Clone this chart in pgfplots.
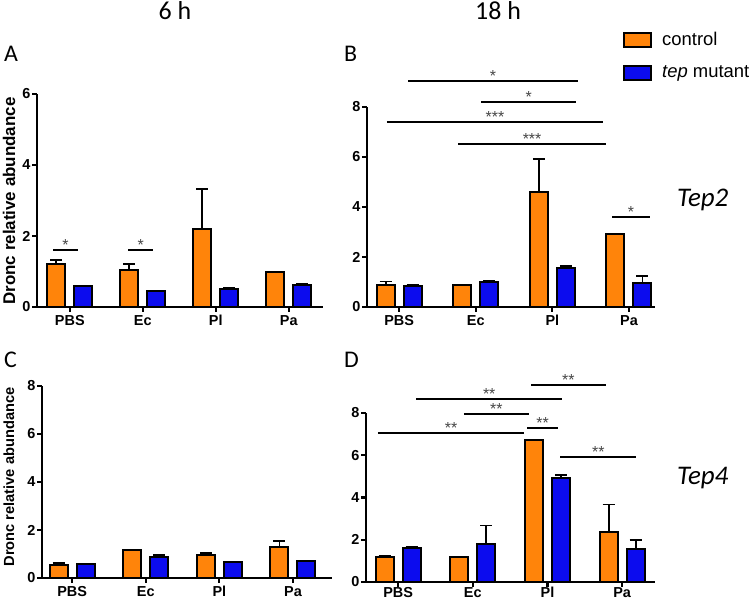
\documentclass[border=0pt]{standalone}
\usepackage{fontspec}
\setmainfont{Liberation Sans}
\newfontfamily\carlito{Carlito}
\usepackage{pgfplots}
\pgfplotsset{compat=1.18}

\definecolor{ctrl}{RGB}{255,132,10}
\definecolor{tepc}{RGB}{12,12,238}
\definecolor{stargray}{RGB}{70,70,70}

\newcommand{\sig}[4]{%
  \draw[line width=2bp] (axis cs:#1,#3) -- node[pos=0.5, anchor=base, inner sep=0pt, yshift=-0.5bp,
    text=stargray, font=\fontsize{16}{16}\selectfont] {#4} (axis cs:#2,#3);}

\pgfplotsset{
  panel/.style={
    scale only axis,
    anchor=south west,
    ybar=9bp, bar width=18bp,
    axis lines*=left,
    axis line style={line width=2.8bp, black},
    ymin=0,
    xtick={0,1,2,3}, xticklabels={PBS,Ec,Pl,Pa},
    tick align=outside, major tick length=5bp,
    tick style={line width=2.2bp, black},
    tick label style={font=\bfseries\fontsize{14.5}{14.5}\selectfont},
    yticklabel style={inner sep=1.5bp},
    /pgf/number format/assume math mode=true,
    clip=false,
    error bars/y dir=plus, error bars/y explicit,
    error bars/error bar style={line width=1.8bp, black},
    error bars/error mark options={rotate=90, mark size=6bp, line width=1.8bp, black},
  },
  boxlegend/.style={legend image code/.code={\draw[##1] (0bp,-7bp) rectangle (27bp,7bp);}},
  ctrlbar/.style={fill=ctrl, draw=black, line width=2bp, boxlegend},
  tepbar/.style={fill=tepc, draw=black, line width=2bp, boxlegend},
}

\begin{document}
\begin{tikzpicture}[x=1bp, y=1bp]
\path[use as bounding box] (0,0) rectangle (750,601);

% A: 6 h, Tep2
\begin{axis}[panel, at={(37bp,294bp)}, width=286bp, height=213bp,
    xmin=-0.45, xmax=3.47, ymax=6, ytick={0,2,4,6}]
\addplot[ctrlbar] coordinates {(0,1.20) +- (0,0.13) (1,1.04) +- (0,0.18) (2,2.20) +- (0,1.12) (3,0.98) +- (0,0)};
\addplot[tepbar] coordinates {(0,0.58) +- (0,0) (1,0.44) +- (0,0) (2,0.50) +- (0,0.05) (3,0.61) +- (0,0.05)};
\sig{-0.23}{0.11}{1.61}{*}
\sig{0.80}{1.14}{1.61}{*}
\end{axis}

% B: 18 h, Tep2
\begin{axis}[panel, at={(367bp,294bp)}, width=288bp, height=200bp,
    xmin=-0.42, xmax=3.34, ymax=8, ytick={0,2,4,6,8},
    legend style={draw=none, fill=none, at={(axis description cs:0.889,1.385)}, anchor=north west,
      font=\fontsize{18.5}{20}\selectfont, row sep=15bp, inner sep=0pt,
      /tikz/every even column/.append style={column sep=4bp},
      /tikz/every odd column/.append style={column sep=8bp}},
    legend cell align=left]
\addplot[ctrlbar] coordinates {(0,0.86) +- (0,0.16) (1,0.86) +- (0,0.02) (2,4.60) +- (0,1.32) (3,2.92) +- (0,0)};
\addplot[tepbar] coordinates {(0,0.82) +- (0,0.07) (1,1.00) +- (0,0.04) (2,1.56) +- (0,0.07) (3,0.96) +- (0,0.28)};
\addlegendentry{control}
\addlegendentry{\textit{tep} mutant}
\sig{0.12}{2.33}{9.04}{*}
\sig{1.07}{2.31}{8.20}{*}
\sig{-0.16}{2.66}{7.40}{***}
\sig{0.77}{2.70}{6.52}{***}
\sig{2.78}{3.27}{3.60}{*}
\end{axis}

% C: 6 h, Tep4
\begin{axis}[panel, at={(42bp,23bp)}, width=290bp, height=192bp,
    xmin=-0.41, xmax=3.53, ymax=8, ytick={0,2,4,6,8}]
\addplot[ctrlbar] coordinates {(0,0.54) +- (0,0.07) (1,1.15) +- (0,0) (2,0.94) +- (0,0.10) (3,1.30) +- (0,0.24)};
\addplot[tepbar] coordinates {(0,0.60) +- (0,0) (1,0.88) +- (0,0.07) (2,0.67) +- (0,0) (3,0.70) +- (0,0)};
\end{axis}

% D: 18 h, Tep4
\begin{axis}[panel, at={(366bp,19bp)}, width=289bp, height=169bp,
    xmin=-0.43, xmax=3.44, ymax=8, ytick={0,2,4,6,8},
    xticklabel style={yshift=3bp}]
\addplot[ctrlbar] coordinates {(0,1.19) +- (0,0.03) (1,1.19) +- (0,0) (2,6.71) +- (0,0) (3,2.38) +- (0,1.29)};
\addplot[tepbar] coordinates {(0,1.62) +- (0,0.05) (1,1.81) +- (0,0.86) (2,4.90) +- (0,0.15) (3,1.57) +- (0,0.43)};
\sig{1.78}{2.78}{9.33}{**}
\sig{0.24}{2.20}{8.67}{**}
\sig{0.88}{1.75}{7.95}{**}
\sig{-0.27}{1.69}{7.05}{**}
\sig{1.73}{2.14}{7.29}{**}
\sig{2.17}{3.19}{5.90}{**}
\end{axis}

% panel labels and titles
\node[anchor=base, inner sep=0pt, font=\carlito\fontsize{26}{26}\selectfont] at (175,581) {6 h};
\node[anchor=base, inner sep=0pt, font=\carlito\fontsize{26}{26}\selectfont] at (498,581) {18 h};
\node[anchor=base west, inner sep=0pt, font=\carlito\fontsize{24}{24}\selectfont] at (4,539) {A};
\node[anchor=base west, inner sep=0pt, font=\carlito\fontsize{24}{24}\selectfont] at (344,539) {B};
\node[anchor=base west, inner sep=0pt, font=\carlito\fontsize{24}{24}\selectfont] at (4,233) {C};
\node[anchor=base west, inner sep=0pt, font=\carlito\fontsize{24}{24}\selectfont] at (344,233) {D};
\node[anchor=base west, inner sep=0pt, font=\carlito\itshape\fontsize{27}{27}\selectfont] at (677,394) {Tep2};
\node[anchor=base west, inner sep=0pt, font=\carlito\itshape\fontsize{27}{27}\selectfont] at (677,116) {Tep4};
\node[rotate=90, inner sep=0pt, font=\bfseries\fontsize{17}{17}\selectfont] at (9,400) {Dronc relative abundance};
\node[rotate=90, inner sep=0pt, font=\bfseries\fontsize{14.7}{14.7}\selectfont] at (9,124) {Dronc relative abundance};
\end{tikzpicture}
\end{document}
